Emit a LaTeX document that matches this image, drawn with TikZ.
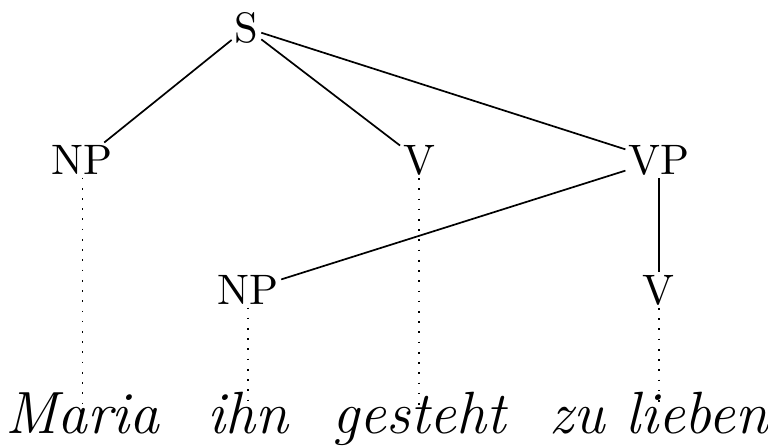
\documentclass[tikz,border=0pt]{standalone}
\usepackage{tikz}
\usetikzlibrary{positioning}

\begin{document}
\begin{tikzpicture}[
    on grid,
    cat/.style={inner sep=0.5pt},
    word/.style={inner sep=0.5pt, font=\fontsize{14pt}{17pt}\selectfont\itshape,
                 text height=0.55em, text depth=0.25em},
    branch/.style={thin},
    leaf/.style={thin, dotted}
]
\useasboundingbox (-57.86pt,6.57pt) rectangle (122.42pt,-98.59pt);

\node[cat] (s) {S};
\node[cat, below left=31pt and 38.5pt of s] (np1) {NP};
\node[cat, below right=31pt and 40.5pt of s] (v1) {V};
\node[cat, below right=31pt and 96.8pt of s] (vp) {VP};
\node[cat, below left=30.5pt and 96.5pt of vp] (np2) {NP};
\node[cat, below=30.5pt of vp] (v2) {V};

\node[word, below=62.7pt of np1] (maria) {Maria};
\node[word, below=32.1pt of np2] (ihn) {ihn};
\node[word, below=62.7pt of v1] (gesteht) {gesteht};
\node[word, below=32.1pt of v2] (zulieben) {zu lieben};

\draw[branch] (s) -- (np1);
\draw[branch] (s) -- (v1);
\draw[branch] (s) -- (vp);
\draw[branch] (vp) -- (np2);
\draw[branch] (vp) -- (v2);

\draw[leaf] (np1) -- (maria);
\draw[leaf] (np2) -- (ihn);
\draw[leaf] (v1) -- (gesteht);
\draw[leaf] (v2) -- (zulieben);

\end{tikzpicture}
\end{document}
